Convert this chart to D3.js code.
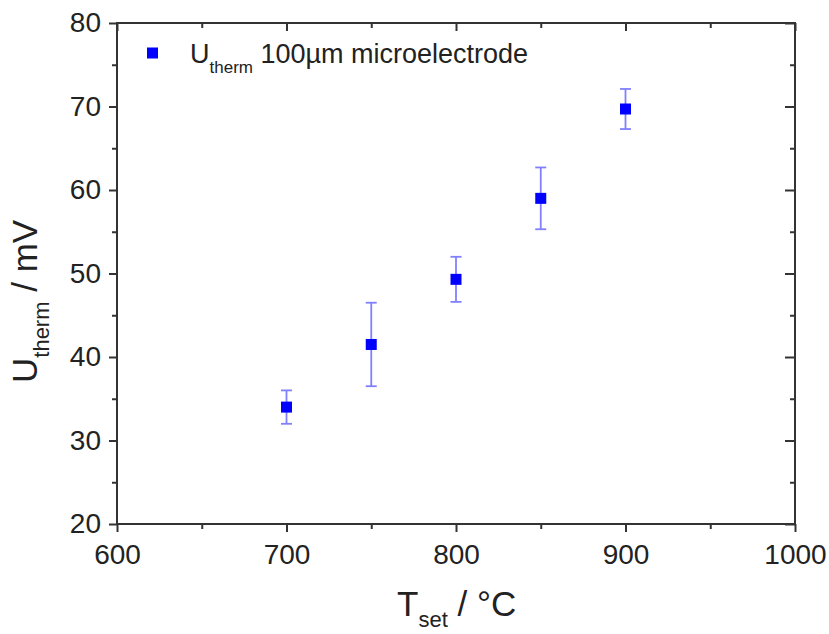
<!DOCTYPE html>
<html>
<head>
<meta charset="utf-8">
<script src="https://cdn.jsdelivr.net/npm/d3@7"></script>
<style>
body{margin:0;background:#fff;}
text{font-family:"Liberation Sans",Arial,sans-serif;fill:#222;}
</style>
</head>
<body>
<svg id="chart" width="829" height="634"></svg>
<script>
const temps = [700, 750, 800, 850, 900];
const values = [34.0, 41.5, 49.3, 59.0, 69.7];
const errors = [2.0, 5.0, 2.7, 3.7, 2.4];
const xTicks = [600, 700, 800, 900, 1000];
const yTicks = [20, 30, 40, 50, 60, 70, 80];
const legendLabel = ["U", "therm", " 100µm microelectrode"];

const svg = d3.select("#chart");
const L = 117, R = 795, T = 23, B = 524;
const x = d3.scaleLinear().domain([600, 1000]).range([L, R]);
const y = d3.scaleLinear().domain([20, 80]).range([B, T]);
const axisColor = "#333";
const fs = 28;

function styleAxis(g, hideLabels) {
  g.select(".domain").remove();
  g.selectAll(".tick line").attr("stroke", axisColor).attr("stroke-width", 2);
  if (hideLabels) g.selectAll(".tick text").remove();
  else g.selectAll(".tick text").style("font-size", fs + "px").attr("fill", "#222");
}
const xMinor = d3.range(650, 1000, 100);
const yMinor = d3.range(25, 80, 10);

// bottom axis (outward)
svg.append("g").attr("transform", `translate(0,${B})`)
  .call(d3.axisBottom(x).tickValues(xTicks).tickFormat(d3.format("d")).tickSize(8).tickPadding(12))
  .call(g => styleAxis(g, false));
svg.append("g").attr("transform", `translate(0,${B})`)
  .call(d3.axisBottom(x).tickValues(xMinor).tickSize(5))
  .call(g => styleAxis(g, true));
// top axis (inward)
svg.append("g").attr("transform", `translate(0,${T})`)
  .call(d3.axisBottom(x).tickValues(xTicks).tickSize(8))
  .call(g => styleAxis(g, true));
svg.append("g").attr("transform", `translate(0,${T})`)
  .call(d3.axisBottom(x).tickValues(xMinor).tickSize(5))
  .call(g => styleAxis(g, true));
// left axis (outward)
svg.append("g").attr("transform", `translate(${L},0)`)
  .call(d3.axisLeft(y).tickValues(yTicks).tickSize(8).tickPadding(8))
  .call(g => styleAxis(g, false));
svg.append("g").attr("transform", `translate(${L},0)`)
  .call(d3.axisLeft(y).tickValues(yMinor).tickSize(5))
  .call(g => styleAxis(g, true));
// right axis (inward)
svg.append("g").attr("transform", `translate(${R},0)`)
  .call(d3.axisLeft(y).tickValues(yTicks).tickSize(10))
  .call(g => styleAxis(g, true));
svg.append("g").attr("transform", `translate(${R},0)`)
  .call(d3.axisLeft(y).tickValues(yMinor).tickSize(5))
  .call(g => styleAxis(g, true));

// frame
svg.append("rect").attr("x", L).attr("y", T).attr("width", R - L).attr("height", B - T)
  .attr("fill", "none").attr("stroke", axisColor).attr("stroke-width", 2);

// data
const data = temps.map((t, i) => ({ t, v: values[i], e: errors[i] }));
const errColor = "#8080ff";
const capW = 5.5;
const eg = svg.append("g");
eg.selectAll("line.bar").data(data).enter().append("line")
  .attr("x1", d => x(d.t)).attr("x2", d => x(d.t))
  .attr("y1", d => y(d.v + d.e)).attr("y2", d => y(d.v - d.e))
  .attr("stroke", errColor).attr("stroke-width", 1.8);
eg.selectAll("line.capt").data(data).enter().append("line")
  .attr("x1", d => x(d.t) - capW).attr("x2", d => x(d.t) + capW)
  .attr("y1", d => y(d.v + d.e)).attr("y2", d => y(d.v + d.e))
  .attr("stroke", errColor).attr("stroke-width", 1.8);
eg.selectAll("line.capb").data(data).enter().append("line")
  .attr("x1", d => x(d.t) - capW).attr("x2", d => x(d.t) + capW)
  .attr("y1", d => y(d.v - d.e)).attr("y2", d => y(d.v - d.e))
  .attr("stroke", errColor).attr("stroke-width", 1.8);
const ms = 11;
svg.append("g").selectAll("rect").data(data).enter().append("rect")
  .attr("x", d => x(d.t) - ms / 2).attr("y", d => y(d.v) - ms / 2)
  .attr("width", ms).attr("height", ms).attr("fill", "#0000ff");

// legend
svg.append("rect").attr("x", 147).attr("y", 47.5).attr("width", 11).attr("height", 11).attr("fill", "#0000ff");
const lt = svg.append("text").attr("x", 190).attr("y", 63).style("font-size", "27px");
lt.append("tspan").text(legendLabel[0]);
lt.append("tspan").attr("dy", 10).style("font-size", "17px").text(legendLabel[1]);
lt.append("tspan").attr("dy", -10).text(legendLabel[2]);

// x title
const xt = svg.append("text").attr("x", 397).attr("y", 616).style("font-size", "35px");
xt.append("tspan").text("T");
xt.append("tspan").attr("dy", 11).style("font-size", "22px").text("set");
xt.append("tspan").attr("dy", -11).text(" / °C");

// y title
const yt = svg.append("text").attr("transform", "translate(37,383) rotate(-90)").style("font-size", "35px");
yt.append("tspan").text("U");
yt.append("tspan").attr("dy", 12).style("font-size", "22px").text("therm");
yt.append("tspan").attr("dy", -12).text(" / mV");
</script>
</body>
</html>
